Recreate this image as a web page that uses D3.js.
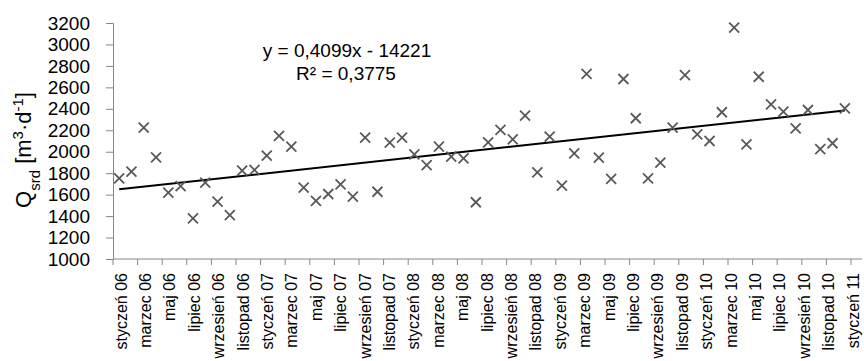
<!DOCTYPE html>
<html>
<head>
<meta charset="utf-8">
<script src="https://cdn.jsdelivr.net/npm/d3@7"></script>
<style>
  body { margin: 0; background: #fff; }
  text { font-family: "Liberation Sans", Arial, sans-serif; fill: #000; }
</style>
</head>
<body>
<svg width="864" height="361"></svg>
<script>
// Monthly values, styczeń 2006 .. grudzień 2010
const startYear = 2006;
const values = [
  1752, 1814, 2224, 1948, 1618, 1680, 1379, 1711, 1534, 1410, 1823, 1830,
  1963, 2147, 2047, 1665, 1541, 1606, 1696, 1581, 2131, 1627, 2084, 2131,
  1976, 1876, 2047, 1954, 1939, 1529, 2088, 2203, 2116, 2336, 1808, 2140,
  1683, 1985, 2725, 1944, 1746, 2678, 2312, 1752, 1898, 2224, 2715, 2162,
  2100, 2368, 3156, 2069, 2699, 2442, 2373, 2218, 2389, 2025, 2079, 2405
];
const monthNames = ["styczeń", "marzec", "maj", "lipiec", "wrzesień", "listopad"];
const yTicks = [1000, 1200, 1400, 1600, 1800, 2000, 2200, 2400, 2600, 2800, 3000, 3200];
// trend line as printed on the chart (x = Excel date serial)
const trendSlope = 0.4099;
const trendIntercept = -14221;
const trendLabel = "y = 0,4099x - 14221";
const r2Label = "R² = 0,3775";

const svg = d3.select("svg");
const margin = { left: 113, top: 23, bottom: 259 };
const axisColor = "#868686";

// x labels every 2 months, through styczeń 11
const xLabels = d3.range(0, 61, 2).map(i => {
  const yy = String((startYear + Math.floor(i / 12)) % 100).padStart(2, "0");
  return monthNames[(i % 12) / 2] + " " + yy;
});

const x = d3.scaleLinear().domain([-0.5, 59.5]).range([margin.left, 851]);
const y = d3.scaleLinear().domain([1000, 3200]).range([margin.bottom, margin.top]);

// excel serial for first day of month i
const serial = i => (Date.UTC(startYear, i, 1) - Date.UTC(1899, 11, 30)) / 86400000;

// y axis
const yAxis = svg.append("g")
  .attr("transform", `translate(${margin.left},0)`)
  .call(d3.axisLeft(y).tickValues(yTicks).tickSize(7).tickPadding(16).tickFormat(d3.format("d")));
yAxis.select(".domain").attr("stroke", axisColor);
yAxis.selectAll(".tick line").attr("stroke", axisColor);
yAxis.selectAll("text").style("font-size", "19px").style("font-family", "'Liberation Sans', Arial, sans-serif").attr("fill", "#000");

// x axis
const xAxis = svg.append("g")
  .attr("transform", `translate(0,${margin.bottom})`);
xAxis.append("line")
  .attr("x1", margin.left).attr("x2", 862)
  .attr("stroke", axisColor);
xAxis.selectAll("line.tk")
  .data(d3.range(0, 31))
  .join("line")
  .attr("class", "tk")
  .attr("x1", d => x(d * 2 - 0.5)).attr("x2", d => x(d * 2 - 0.5))
  .attr("y1", 0).attr("y2", 6)
  .attr("stroke", axisColor);
xAxis.selectAll("text")
  .data(xLabels)
  .join("text")
  .attr("transform", (d, i) => `translate(${x(i * 2 - 0.5) + 8 - i * 0.2},14) rotate(-90)`)
  .attr("text-anchor", "end")
  .attr("dy", "0.35em")
  .style("font-size", "16px")
  .text(d => d);

// trend line
svg.append("line")
  .attr("x1", x(0)).attr("y1", y(trendSlope * serial(0) + trendIntercept))
  .attr("x2", x(59)).attr("y2", y(trendSlope * serial(59) + trendIntercept))
  .attr("stroke", "#000")
  .attr("stroke-width", 2);

// X markers
const r = 5;
svg.append("g")
  .selectAll("path")
  .data(values)
  .join("path")
  .attr("d", (d, i) => {
    const cx = x(i), cy = y(d);
    return `M${cx - r},${cy - r}L${cx + r},${cy + r}M${cx - r},${cy + r}L${cx + r},${cy - r}`;
  })
  .attr("stroke", "#595959")
  .attr("stroke-width", 1.8)
  .attr("fill", "none");

// equation
svg.append("text")
  .attr("x", 347).attr("y", 57)
  .attr("text-anchor", "middle")
  .style("font-size", "19px")
  .text(trendLabel);
svg.append("text")
  .attr("x", 346).attr("y", 80)
  .attr("text-anchor", "middle")
  .style("font-size", "19px")
  .text(r2Label);

// y title
const title = svg.append("text")
  .attr("transform", "translate(31,150) rotate(-90)")
  .attr("text-anchor", "middle")
  .style("font-size", "22px");
title.append("tspan").text("Q");
title.append("tspan").attr("baseline-shift", "sub").style("font-size", "15px").text("srd");
title.append("tspan").text(" [m");
title.append("tspan").attr("baseline-shift", "super").style("font-size", "15px").text("3");
title.append("tspan").text("·d");
title.append("tspan").attr("baseline-shift", "super").style("font-size", "15px").text("-1");
title.append("tspan").text("]");
</script>
</body>
</html>
